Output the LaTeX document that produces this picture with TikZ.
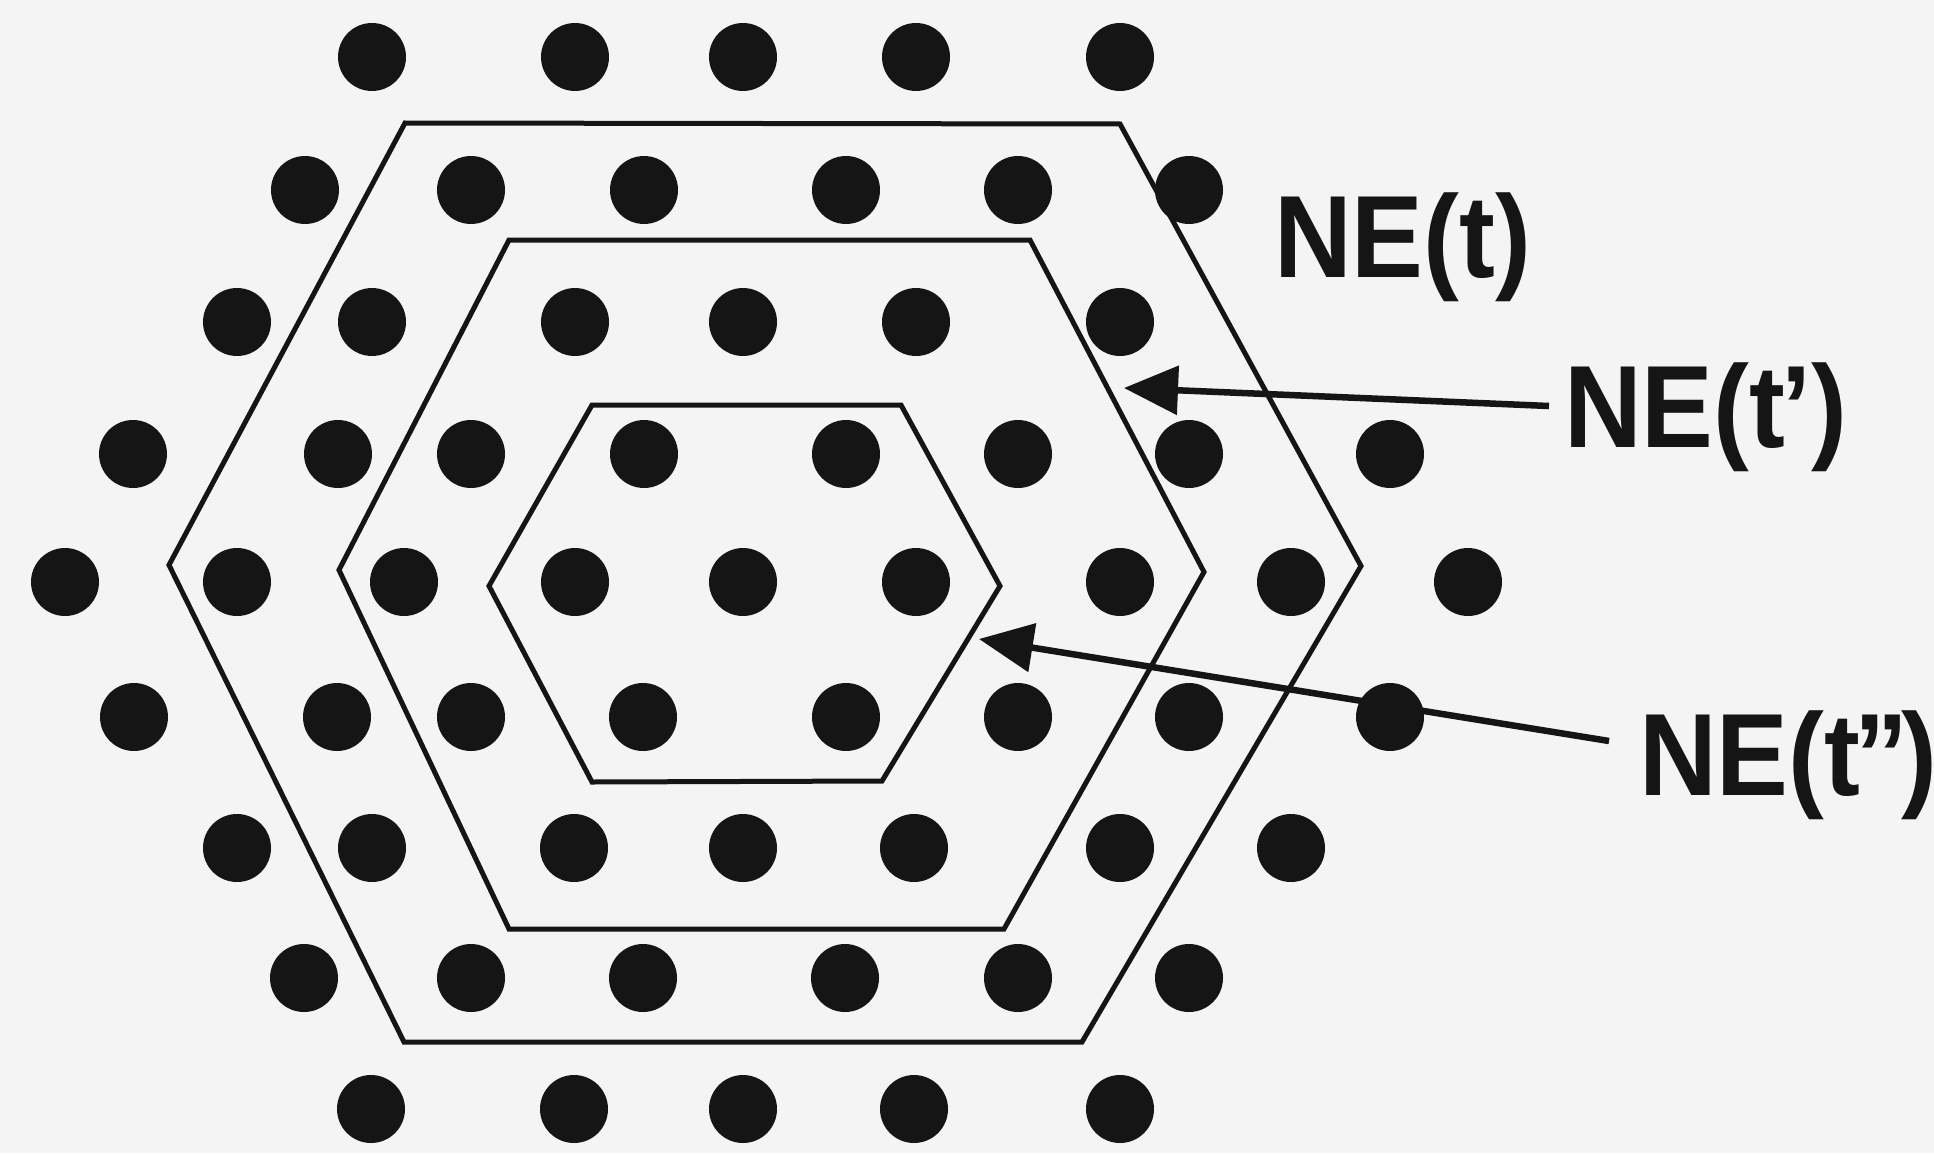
\documentclass[tikz,border=0pt]{standalone}
\usepackage{fontspec}
\newfontfamily\labfont{Liberation Sans}[BoldFont={Liberation Sans Bold}]
\usetikzlibrary{arrows.meta}
\definecolor{bg}{HTML}{F4F4F4}
\definecolor{ink}{HTML}{151515}
\tikzset{
  dotnode/.style={circle,fill=ink,draw=none,minimum size=68pt,inner sep=0pt},
  hexline/.style={draw=ink,line width=5pt,line join=miter},
  labtext/.style={anchor=base west,inner sep=0pt,text=ink,xscale=0.92,font=\labfont\bfseries\fontsize{117}{117}\selectfont},
  pointer/.style={draw=ink,line width=6.5pt,-{Triangle[length=54pt,width=48pt]}}
}
\begin{document}
\begin{tikzpicture}[x=1pt,y=-1pt]
\fill[bg] (0,0) rectangle (1934,1153);
\useasboundingbox (0,0) rectangle (1934,1153);
% dots
\foreach \px/\py [count=\i] in {
 372/57, 575/57, 743/57, 916/57, 1120/57,
 305/190, 471/190, 644/190, 846/190, 1018/190, 1189/190,
 237/322, 372/322, 575/322, 743/322, 916/322, 1120/322,
 133/454, 338/454, 471/454, 644/454, 846/454, 1018/454, 1189/454, 1390/454,
 65/582, 237/582, 404/582, 575/582, 743/582, 916/582, 1120/582, 1291/582, 1468/582,
 134/717, 337/717, 471/717, 643/717, 846/717, 1018/717, 1189/717, 1390/717,
 237/848, 372/848, 574/848, 743/848, 914/848, 1120/848, 1291/848,
 304/978, 471/978, 643/978, 845/978, 1018/978, 1189/978,
 371/1109, 574/1109, 743/1109, 914/1109, 1120/1109}
 {\node[dotnode] (d\i) at (\px,\py) {};}
% hexagons
\draw[hexline] (405,123) -- (1120,124) -- (1361,566) -- (1082,1042) -- (404,1042) -- (169,565) -- cycle;
\draw[hexline] (509,240) -- (1030,240) -- (1204,572) -- (1004,929) -- (509,929) -- (339,570) -- cycle;
\draw[hexline] (592,405) -- (901,405) -- (1000,586) -- (882,781) -- (592,782) -- (489,586) -- cycle;
% labels
\node[labtext] (l1) at (1274,277) {NE(t)};
\node[labtext] (l2) at (1564,447) {NE(t\kern-0.04em’)};
\node[labtext] (l3) at (1639,795) {NE(t\kern-0.06em”\kern-0.06em)};
% arrows
\coordinate (s2) at (1549,406);
\coordinate (e2) at (1124,388);
\coordinate (s3) at (1609,741);
\coordinate (e3) at (979,639);
\draw[pointer] (s2) -- (e2);
\draw[pointer] (s3) -- (e3);
\end{tikzpicture}
\end{document}
